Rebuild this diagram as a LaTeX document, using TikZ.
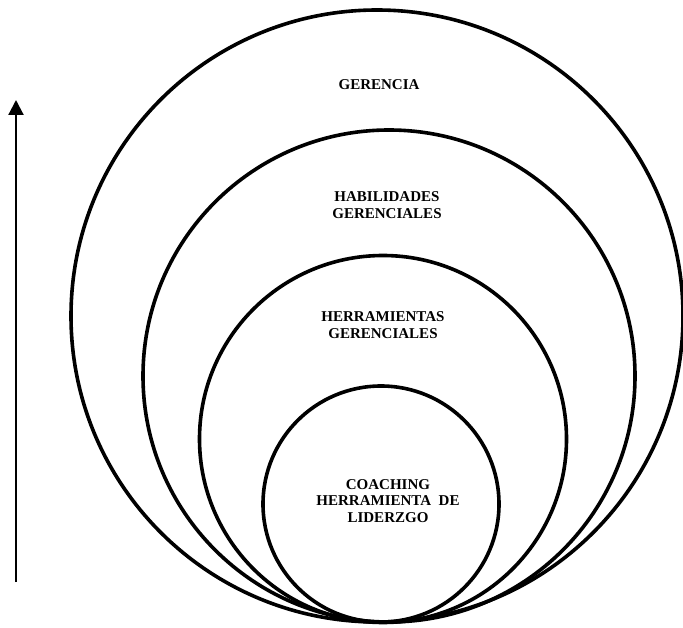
\documentclass[tikz,border=0pt]{standalone}
\usepackage{fontspec}
\setmainfont{Liberation Serif}
\usetikzlibrary{arrows.meta}
\begin{document}
\begin{tikzpicture}[x=1pt,y=-1pt,
  ring/.style={circle, draw=black, line width=3.6pt, inner sep=0pt},
  lbl/.style={font=\fontsize{15}{16.5}\selectfont\bfseries, align=center, inner sep=0pt},
  rise/.style={-{Triangle[length=15pt,width=15pt]}, line width=2.2pt}]
  \useasboundingbox (0,0) rectangle (683,628);
  % nested circles, all touching at the bottom
  \node[ring, minimum size=612pt] (gerencia) at (377,316) {};
  \node[ring, minimum size=492pt] (habilidades) at (389,376) {};
  \node[ring, minimum size=367pt] (herramientas) at (383,439) {};
  \node[ring, minimum size=236pt] (coaching) at (381,504) {};
  % labels
  \node[lbl] (tGer) at (379,85) {GERENCIA};
  \node[lbl] (tHab) at (387,205) {HABILIDADES\\GERENCIALES};
  \node[lbl] (tHer) at (383,325) {HERRAMIENTAS\\GERENCIALES};
  \node[lbl] (tCoa) at (388,501) {COACHING\\HERRAMIENTA\ \ DE\\LIDERZGO};
  % upward arrow on the left
  \coordinate (aBot) at (16,582);
  \coordinate (aTop) at (16,100);
  \draw[rise] (aBot) -- (aTop);
\end{tikzpicture}
\end{document}
